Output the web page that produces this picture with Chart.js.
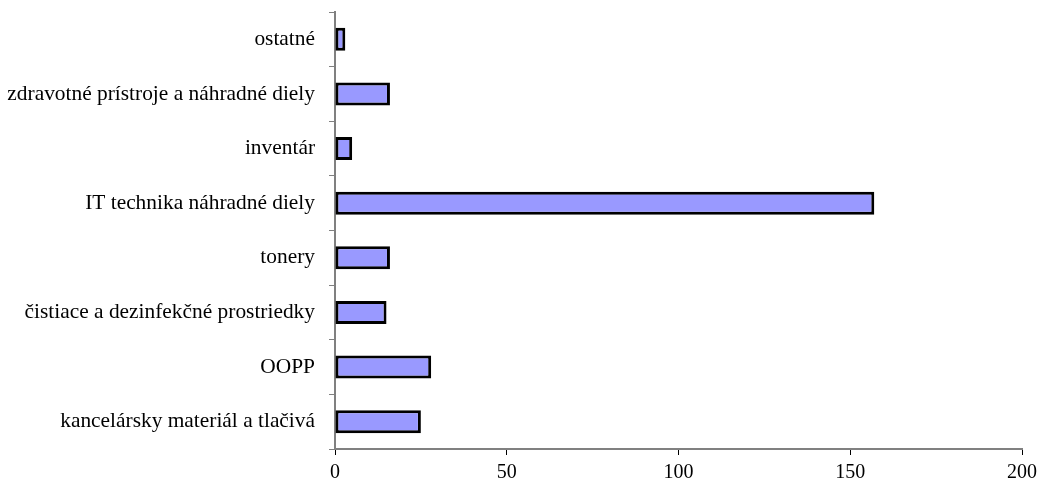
<!DOCTYPE html>
<html>
<head>
<meta charset="utf-8">
<script src="https://cdn.jsdelivr.net/npm/chart.js@4/dist/chart.umd.min.js"></script>
<style>
  body { margin: 0; background: #fff; }
  #wrap { width: 1043px; height: 484px; }
</style>
</head>
<body>
<div id="wrap"><canvas id="graf"></canvas></div>
<script>
// kategórie zhora nadol
const kategorie = [
    'ostatné',
    'zdravotné prístroje a náhradné diely',
    'inventár',
    'IT technika náhradné diely',
    'tonery',
    'čistiace a dezinfekčné prostriedky',
    'OOPP',
    'kancelársky materiál a tlačivá'
];
const hodnoty = [3, 16, 5, 157, 16, 15, 28, 25];
const osX = [0, 50, 100, 150, 200];

const sedaOs = '#808080';

const ctx = document.getElementById('graf').getContext('2d');
new Chart(ctx, {
    type: 'bar',
    data: {
        labels: kategorie,
        datasets: [{
            data: hodnoty,
            backgroundColor: '#9999FF',
            borderColor: '#000000',
            borderWidth: 3,
            borderSkipped: false,
            categoryPercentage: 1,
            barPercentage: 0.42
        }]
    },
    options: {
        indexAxis: 'y',
        responsive: true,
        maintainAspectRatio: false,
        animation: false,
        layout: { padding: { top: 12, right: 20, left: 0, bottom: 0 } },
        plugins: { legend: { display: false }, tooltip: { enabled: false } },
        scales: {
            x: {
                min: osX[0],
                max: osX[osX.length - 1],
                afterBuildTicks: s => { s.ticks = osX.map(v => ({ value: v })); },
                afterFit: s => { s.height = 35; },
                grid: { drawOnChartArea: false, tickLength: 6, color: '#000' },
                border: { color: sedaOs, width: 2 },
                ticks: { color: '#000', padding: 6, font: { family: 'Liberation Serif', size: 20 } }
            },
            y: {
                afterFit: s => { s.width = 335; s.paddingTop = 0; s.paddingBottom = 0; },
                grid: { drawOnChartArea: false, tickLength: 6, color: sedaOs, offset: true },
                border: { color: sedaOs, width: 2 },
                ticks: { color: '#000', padding: 14, font: { family: 'Liberation Serif', size: 21.4 } }
            }
        }
    }
});
</script>
</body>
</html>
